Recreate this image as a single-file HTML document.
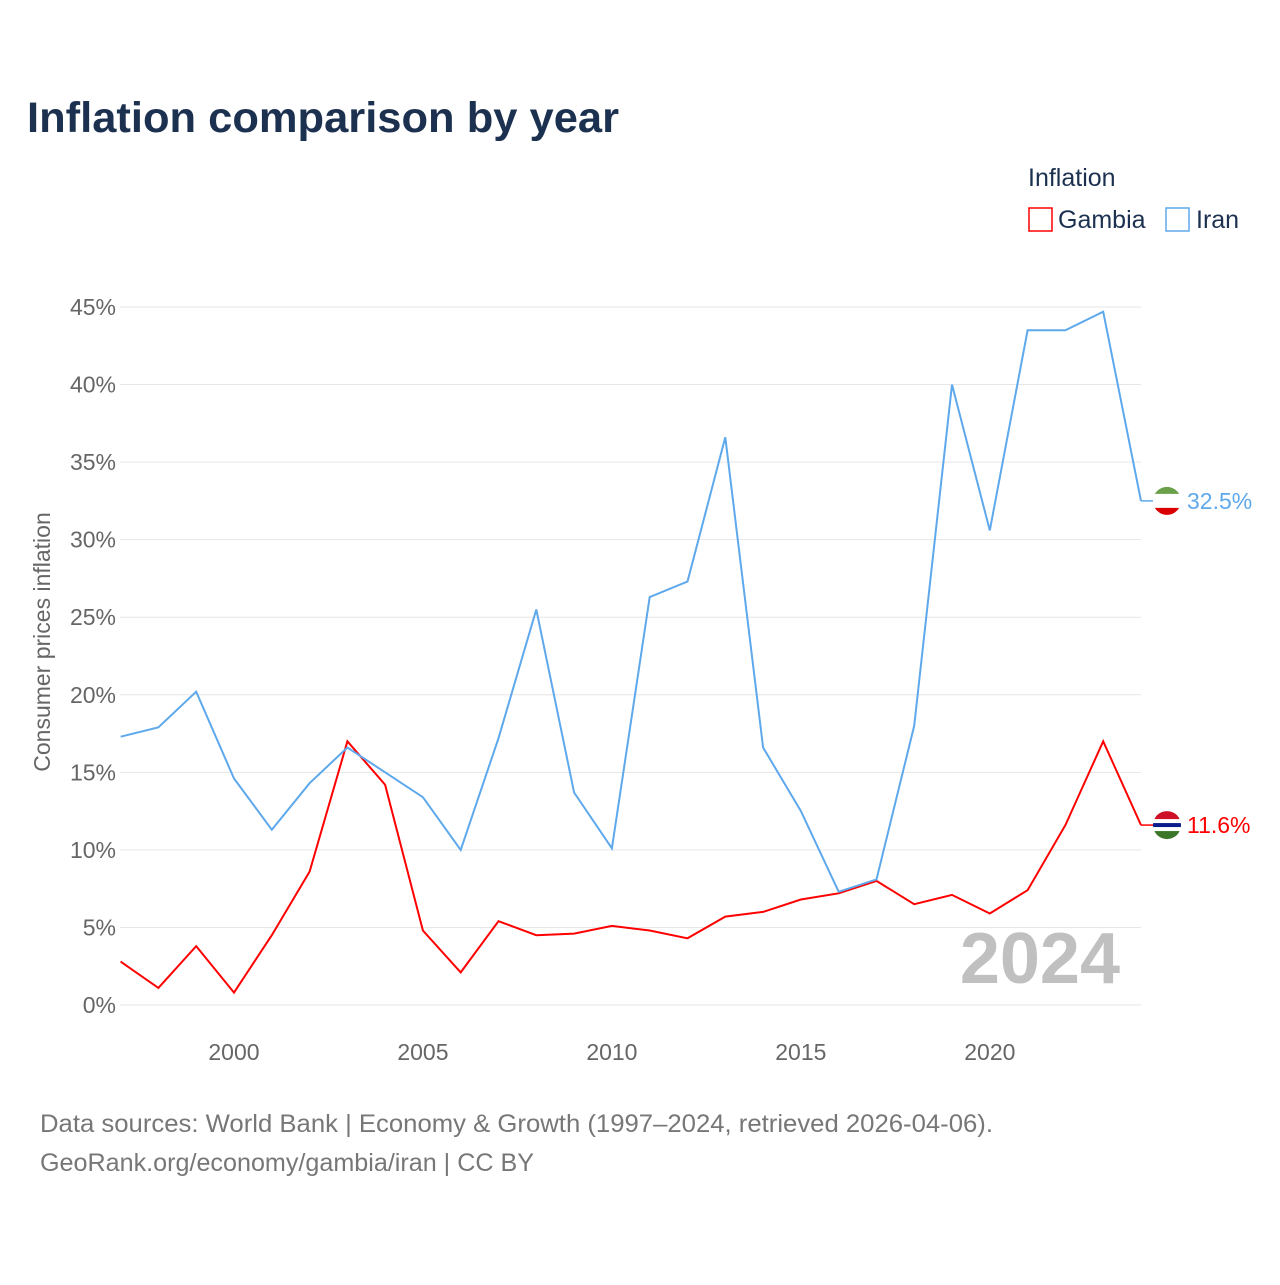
<!DOCTYPE html>
<html><head><meta charset="utf-8"><style>
body{margin:0;background:#fff;font-family:"Liberation Sans",sans-serif;}
svg text{font-family:"Liberation Sans",sans-serif;}
</style></head><body>
<svg id="chart" width="1280" height="1280" viewBox="0 0 1280 1280">
<text x="27" y="132" font-size="43" font-weight="bold" fill="#1c3150" textLength="592" lengthAdjust="spacingAndGlyphs">Inflation comparison by year</text>
<text x="1028" y="186" font-size="25" fill="#1c3150">Inflation</text>
<g><rect x="1029" y="208" width="23" height="23" fill="none" stroke="#f00" stroke-width="1.5"/><text x="1058" y="228" font-size="25" fill="#1c3150">Gambia</text></g>
<g><rect x="1166" y="208" width="23" height="23" fill="none" stroke="#5ea8ec" stroke-width="1.5"/><text x="1196" y="228" font-size="25" fill="#1c3150">Iran</text></g>
<g id="grid"></g>
<g id="yticks"></g>
<g id="xticks"></g>
<text transform="translate(50,642) rotate(-90)" text-anchor="middle" font-size="23" fill="#666">Consumer prices inflation</text>
<text x="1120" y="983" text-anchor="end" font-size="72" font-weight="bold" fill="#c0c0c0">2024</text>
<g id="series"></g>
<text x="40" y="1132" font-size="25" fill="#777" textLength="953" lengthAdjust="spacingAndGlyphs">Data sources: World Bank | Economy &amp; Growth (1997–2024, retrieved 2026-04-06).</text>
<text x="40" y="1171" font-size="25" fill="#777" textLength="494" lengthAdjust="spacingAndGlyphs">GeoRank.org/economy/gambia/iran | CC BY</text>
</svg>
<script>
const years=[1997,1998,1999,2000,2001,2002,2003,2004,2005,2006,2007,2008,2009,2010,2011,2012,2013,2014,2015,2016,2017,2018,2019,2020,2021,2022,2023,2024];
const iran=[17.3,17.9,20.2,14.6,11.3,14.3,16.6,15.0,13.4,10.0,17.2,25.5,13.7,10.1,26.3,27.3,36.6,16.6,12.5,7.3,8.1,18.0,40.0,30.6,43.5,43.5,44.7,32.5];
const gambia=[2.8,1.1,3.8,0.8,4.5,8.6,17.0,14.2,4.8,2.1,5.4,4.5,4.6,5.1,4.8,4.3,5.7,6.0,6.8,7.2,8.0,6.5,7.1,5.9,7.4,11.6,17.0,11.6];
const yTicks=[0,5,10,15,20,25,30,35,40,45];
const xTicks=[2000,2005,2010,2015,2020];
const NS="http://www.w3.org/2000/svg";
const X=y=>120.6+(y-1997)*(1141-120.6)/27;
const Y=v=>1005-v*(1005-307)/45;
function mk(tag,attrs,parent){const e=document.createElementNS(NS,tag);for(const k in attrs)e.setAttribute(k,attrs[k]);parent.appendChild(e);return e;}
const grid=document.getElementById('grid'),yt=document.getElementById('yticks'),xt=document.getElementById('xticks'),ser=document.getElementById('series');
yTicks.forEach(t=>{
 const l=mk('line',{x1:120,x2:1141,y1:Y(t),y2:Y(t),stroke:'#e6e6e6','stroke-width':1},grid);
 
 
 const tx=mk('text',{x:116,y:Y(t)+8,'text-anchor':'end','font-size':23,fill:'#666'},yt);
 tx.textContent=t+'%';
 
 
});
xTicks.forEach(t=>{
 const tx=mk('text',{x:X(t),y:1060,'text-anchor':'middle','font-size':23,fill:'#666'},xt);
 tx.textContent=t;
 
 
});
function line(vals,color,name){
 const d=vals.map((v,i)=>(i?'L':'M')+X(years[i]).toFixed(1)+','+Y(v).toFixed(1)).join('');
 const p=mk('path',{d:d,fill:'none',stroke:color,'stroke-width':2},ser);
 
 
 const last=vals[vals.length-1],yy=Y(last),x0=X(years[years.length-1]);
 const c=mk('line',{x1:x0,x2:1153,y1:yy,y2:yy,stroke:color,'stroke-width':1.5},ser);
 
 
 return {yy};
}
const gi=line(gambia,'#ff0000','gambia');
const ii=line(iran,'#5ea8ec','iran');
function flag(cy,cols,name){
 const g=mk('g',{},ser);
 
 
 const cp=mk('clipPath',{id:'cp'+name},g);mk('circle',{cx:1167,cy:cy,r:14},cp);
 const gg=mk('g',{'clip-path':'url(#cp'+name+')'},g);
 const n=cols.length;cols.forEach((c,i)=>mk('rect',{x:1153,y:cy-14+i*28/n,width:28,height:28/n+0.5,fill:c},gg));
}
flag(gi.yy,['#ce1126','#ce1126','#fff','#0c1c8c','#fff','#3a7728','#3a7728'],'gambia');
flag(ii.yy,['#6aa04a','#fff','#fff','#da0000'],'iran');
const t1=mk('text',{x:1187,y:gi.yy+8,'font-size':23,fill:'#ff0000'},ser);t1.textContent=gambia[gambia.length-1].toFixed(1)+'%';


const t2=mk('text',{x:1187,y:ii.yy+8,'font-size':23,fill:'#5ea8ec'},ser);t2.textContent=iran[iran.length-1].toFixed(1)+'%';


</script>
</body></html>
